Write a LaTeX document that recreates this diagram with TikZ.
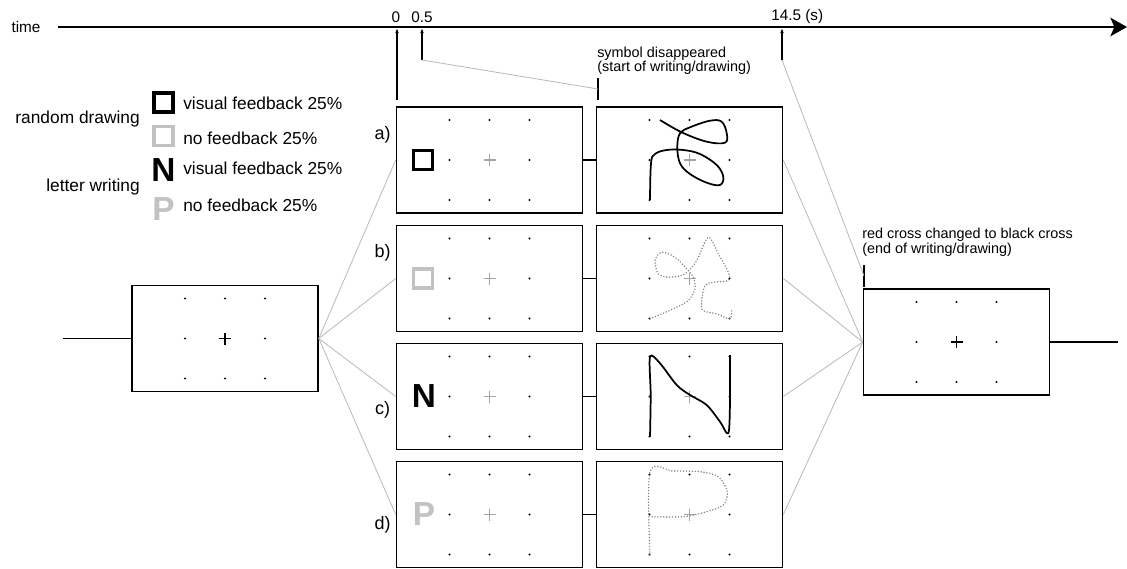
\documentclass[tikz,border=0pt]{standalone}
\usepackage{fontspec}
\setmainfont{Liberation Sans}
\usetikzlibrary{arrows.meta,positioning,calc}
\definecolor{lgrey}{HTML}{B8B8B8}
\definecolor{sgrey}{HTML}{C2C2C2}
\definecolor{cgrey}{HTML}{A4A4A4}
\definecolor{dgrey}{HTML}{808080}

% 3x3 dot grid with a cross in the middle of a screen
\newcommand\dotgrid[2]{%
  \foreach \dx/\dy in {-40/-40,0/-40,40/-40,-40/0,40/0,-40/40,0/40,40/40}
    \fill[shift={(#1.center)}] (\dx,\dy) circle[radius=0.85pt];
  \draw[shift={(#1.center)},#2,line width=0.8pt] (-6,0) -- (6,0) (0,-6) -- (0,6);
}

\begin{document}
\begin{tikzpicture}[x=0.75pt,y=-0.75pt,
  screen/.style={draw,line width=1.2pt,minimum width=139.5pt,minimum height=79.5pt,inner sep=0pt},
  fan/.style={lgrey,line width=0.6pt},
  link/.style={line width=1.2pt},
  tick/.style={line width=1.1pt,-{Stealth[length=3pt,width=2.6pt]}},
  sym/.style={minimum size=14.5pt,inner sep=0pt,line width=2.6pt},
  letter/.style={font=\fontsize{25}{25}\selectfont\bfseries,inner sep=0pt},
  lgd/.style={font=\fontsize{13}{15}\selectfont,inner sep=0pt},
  lbl/.style={font=\fontsize{13.5}{15}\selectfont,inner sep=0pt},
  stamp/.style={font=\fontsize{11.5}{13}\selectfont,inner sep=0pt},
  note/.style={font=\fontsize{10.8}{10}\selectfont,align=left,inner sep=0pt},
  pen/.style={line width=1.3pt,line join=round},
  ghost/.style={dgrey,line width=1.2pt,line cap=round,dash pattern=on 0pt off 2.2pt}]
\useasboundingbox (0,0) rectangle (1127,568);

% time axis
\node[stamp] (time) at (26,27) {time};
\coordinate (tl) at (58,27);
\coordinate (tr) at (1127,27);
\draw[line width=1.2pt,-{Stealth[length=12.5pt,width=14pt,inset=3pt]}] (tl) -- (tr);
\node[stamp] (s0) at (396,17) {0};
\node[stamp] (s05) at (422,17) {0.5};
\node[stamp,anchor=west] (s145) at (771,17) {14.5 (s)};

% legend
\node[lgd,anchor=east] (rand) at (140,119) {random drawing};
\node[lgd,anchor=east] (lett) at (140,187) {letter writing};
\node[sym,draw=black] (symA) at (163.5,102.5) {};
\node[sym,draw=sgrey] (symB) at (163.5,136) {};
\node[letter] (symC) at (163.5,170) {N};
\node[letter,sgrey] (symD) at (163.5,209) {P};
\node[lgd,anchor=west] (txtA) at (183,103) {visual feedback 25\%};
\node[lgd,anchor=west] (txtB) at (183,138) {no feedback 25\%};
\node[lgd,anchor=west] (txtC) at (183,168) {visual feedback 25\%};
\node[lgd,anchor=west] (txtD) at (183,205) {no feedback 25\%};

% screens
\node[screen] (fix) at (225,338.5) {};
\node[screen] (cueA) at (489.5,160) {};
\node[screen] (cueB) at (489.5,278.5) {};
\node[screen] (cueC) at (489.5,396.5) {};
\node[screen] (cueD) at (489.5,514.5) {};
\node[screen] (penA) at (689.5,160) {};
\node[screen] (penB) at (689.5,278.5) {};
\node[screen] (penC) at (689.5,396.5) {};
\node[screen] (penD) at (689.5,514.5) {};
\node[screen] (endfix) at (956.5,342) {};

\node[lbl] (labA) at (382.5,135) {a)};
\node[lbl] (labB) at (382.5,253) {b)};
\node[lbl] (labC) at (382.5,410) {c)};
\node[lbl] (labD) at (382.5,525) {d)};

\node[sym,draw=black] (sqA) at (423,160) {};
\node[sym,draw=sgrey] (sqB) at (423,278.5) {};
\node[letter] (chC) at (424,396.5) {N};
\node[letter,sgrey] (chD) at (424,514.5) {P};

\dotgrid{fix}{black}
\dotgrid{endfix}{black}
\foreach \s in {A,B,C,D}{
  \draw[fan] (fix.east) -- (cue\s.west);
  \draw[link] (cue\s.east) -- (pen\s.west);
  \draw[fan] (pen\s.east) -- (endfix.west);
  \dotgrid{cue\s}{cgrey}
  \dotgrid{pen\s}{cgrey}
}

\coordinate (inL) at (63,338.5);
\coordinate (outR) at (1118,342);
\draw[link] (inL) -- (fix.west);
\draw[link] (endfix.east) -- (outR);

% event markers
\coordinate (m0) at (397,100);
\coordinate (a0) at (397,29);
\coordinate (m05) at (422,60);
\coordinate (a05) at (422,29);
\coordinate (m145) at (782,60);
\coordinate (a145) at (782,29);
\draw[tick] (m0) -- (a0);
\draw[tick] (m05) -- (a05);
\draw[tick] (m145) -- (a145);
\coordinate (startT) at (598,78);
\coordinate (startB) at (598,100);
\coordinate (startM) at (598,89);
\draw[link] (startT) -- (startB);
\draw[fan] (m05) -- (startM);
\coordinate (endT) at (864,265);
\coordinate (endB) at (864,287);
\coordinate (endM) at (864,276);
\draw[link] (endT) -- (endB);
\draw[fan] (m145) -- (endM);
\node[note,anchor=north west] (disap) at (597,46.5) {symbol disappeared\\(start of writing/drawing)};
\node[note,anchor=north west] (redx) at (862,228) {red cross changed to black cross\\(end of writing/drawing)};

% traces
\draw[pen,shift={(penA.center)}] plot[smooth,tension=0.6] coordinates {
  (-29.5,-40) (-7.8,-27.7) (17.2,-18.3) (35.5,-17.3) (37.2,-26.7) (32.2,-38.3)
  (20.5,-39.3) (0.5,-32.7) (-9.5,-26.7) (-12.2,-13.3) (-9.5,3.3) (0.5,14)
  (17.2,22.7) (30.5,25) (33.8,16.7) (27.2,5) (10.5,-6) (-6.2,-10) (-22.8,-10)
  (-34.5,-6) (-38.5,3.3) (-39.5,40)};
\draw[ghost,shift={(penB.center)}] plot[smooth,tension=0.5] coordinates {
  (-39.5,40.3) (-16.2,30.3) (-1.2,22) (5.5,10.3) (3.8,-1.3) (-2.8,-9.7)
  (-14.5,-21.3) (-27.8,-26.3) (-34.5,-18) (-31.2,-4.7) (-19.5,-1.3) (-4.5,-4.7)
  (7.2,-18) (18.8,-41.3) (28.8,-24.7) (38.8,-6.3) (38.8,2) (23.8,3.7) (15.5,7)
  (12.2,22) (13.2,32) (27.2,35.3) (40.5,40.3) (42.2,30.3)};
\draw[pen,shift={(penC.center)}] plot[smooth,tension=0.5] coordinates {
  (-39.5,40.2) (-38.8,-1.5) (-39.5,-39.8) (-29.5,-33.2) (-12.8,-11.5) (0.5,-1.5)
  (17.2,8.5) (30.5,25.2) (38.8,36.8) (40.5,5.2) (40.5,-41.5)};
\draw[ghost,shift={(penD.center)}] plot[smooth,tension=0.5] coordinates {
  (-39.5,40.5) (-39.5,-42.8) (-16.2,-43.5) (10.5,-42.8) (28.8,-37.8) (37.8,-22.8)
  (33.8,-9.5) (17.2,-2.8) (-6.2,2.2) (-39.5,2.2)};
\end{tikzpicture}
\end{document}
